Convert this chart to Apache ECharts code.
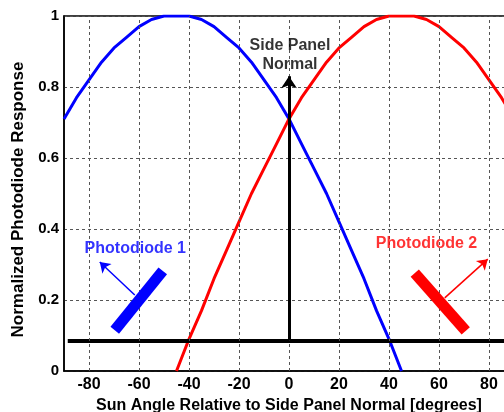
<!DOCTYPE html>
<html><head><meta charset="utf-8">
<script src="https://cdn.jsdelivr.net/npm/echarts@6/dist/echarts.min.js"></script>
<style>html,body{margin:0;padding:0;background:#fff}#c{width:504px;height:412px}</style>
</head><body><div id="c"></div>
<script>
// Data
var angles = [-90,-85,-80,-75,-70,-65,-60,-55,-50,-45,-40,-35,-30,-25,-20,-15,-10,-5,0,5,10,15,20,25,30,35,40,45,50,55,60,65,70,75,80,85,90];
var pd1 = [0.71,0.77,0.82,0.87,0.91,0.94,0.97,0.99,1.0,1.0,1.0,0.99,0.97,0.94,0.91,0.87,0.82,0.77,0.71,0.64,0.57,0.50,0.42,0.34,0.26,0.17,0.09,0.0,null,null,null,null,null,null,null,null,null];
var pd2 = [null,null,null,null,null,null,null,null,null,0.0,0.09,0.17,0.26,0.34,0.42,0.50,0.57,0.64,0.71,0.77,0.82,0.87,0.91,0.94,0.97,0.99,1.0,1.0,1.0,0.99,0.97,0.94,0.91,0.87,0.82,0.77,0.71];
var xTicks = [-80,-60,-40,-20,0,20,40,60,80];
var yTicks = [0,0.2,0.4,0.6,0.8,1];
var horizonLevel = 0.085;
var horizonStart = -88.5;
var normalTop = 0.83;
var diode1Bar = [[-69.7,0.115],[-50.5,0.282]];
var diode1Arrow = [[-61.7,0.214],[-75.7,0.307]];
var diode2Bar = [[50.3,0.276],[70.7,0.113]];
var diode2Arrow = [[62.3,0.206],[79.5,0.315]];
var labels = [
  {name:'Photodiode 1', x:-61.5, y:0.345, color:'#0000ff'},
  {name:'Photodiode 2', x:55, y:0.36, color:'#ff0000'},
  {name:'Side Panel', x:0.4, y:0.918, color:'#000000'},
  {name:'Normal', x:0.4, y:0.862, color:'#000000'}
];

var FONT = '"Liberation Sans", Arial, sans-serif';
var chart = echarts.init(document.getElementById('c'), null, {renderer:'canvas'});
function pairs(ys){ return angles.map(function(a,i){ return [a, ys[i]]; }); }

chart.setOption({
  animation:false,
  backgroundColor:'#fff',
  grid:{left:64, top:16, width:450, height:355, outerBoundsMode:'none', containLabel:false,
    show:true, borderColor:'#000', borderWidth:1.5, backgroundColor:'#fff'},
  xAxis:{type:'value', min:-90, max:90,
    name:'Sun Angle Relative to Side Panel Normal [degrees]', nameLocation:'middle', nameGap:25,
    nameTextStyle:{fontFamily:FONT, fontWeight:'bold', fontSize:16, color:'#000'},
    axisLine:{show:true, onZero:false, lineStyle:{color:'#000', width:1.5}},
    axisTick:{show:false, customValues:xTicks},
    axisLabel:{customValues:xTicks, fontFamily:FONT, fontWeight:'bold', fontSize:16, color:'#000', margin:6},
    splitLine:{show:false}
  },
  yAxis:{type:'value', min:0, max:1, interval:0.2,
    name:'Normalized Photodiode Response', nameLocation:'middle', nameGap:35,
    nameTextStyle:{fontFamily:FONT, fontWeight:'bold', fontSize:17, color:'#000', padding:[0,12,0,0]},
    axisLine:{show:true, onZero:false, lineStyle:{color:'#000', width:1.5}},
    axisTick:{show:false},
    axisLabel:{fontFamily:FONT, fontWeight:'bold', fontSize:15, color:'#000', margin:5},
    splitLine:{show:true, lineStyle:{color:'#555', type:[3,3], width:1}}
  },
  series:[
    {type:'line', data:[], silent:true,
      markLine:{silent:true, symbol:'none', label:{show:false},
        lineStyle:{color:'#555', type:[3,3], width:1},
        data: xTicks.map(function(t){ return {xAxis:t}; })}},
    {type:'line', data:pairs(pd1), showSymbol:false, connectNulls:false, clip:true,
      lineStyle:{color:'#0000ff', width:3}, z:3},
    {type:'line', data:pairs(pd2), showSymbol:false, connectNulls:false, clip:true,
      lineStyle:{color:'#ff0000', width:3}, z:3},
    {type:'lines', coordinateSystem:'cartesian2d', z:4,
      data:[{coords:[[horizonStart,horizonLevel],[90,horizonLevel]]}],
      symbol:'none', lineStyle:{color:'#000', width:4, opacity:1}},
    {type:'lines', coordinateSystem:'cartesian2d', z:5,
      data:[{coords:[[0,horizonLevel],[0,normalTop]]}],
      symbol:['none','arrow'], symbolSize:[0,12], lineStyle:{color:'#000', width:3, opacity:1}},
    {type:'lines', coordinateSystem:'cartesian2d', z:5,
      data:[{coords:diode1Bar}], symbol:'none',
      lineStyle:{color:'#0000ff', width:11, opacity:1, cap:'butt'}},
    {type:'lines', coordinateSystem:'cartesian2d', z:5,
      data:[{coords:diode1Arrow}], symbol:['none','arrow'], symbolSize:[0,10],
      lineStyle:{color:'#0000ff', width:1.5, opacity:1}},
    {type:'lines', coordinateSystem:'cartesian2d', z:5,
      data:[{coords:diode2Bar}], symbol:'none',
      lineStyle:{color:'#ff0000', width:11, opacity:1, cap:'butt'}},
    {type:'lines', coordinateSystem:'cartesian2d', z:5,
      data:[{coords:diode2Arrow}], symbol:['none','arrow'], symbolSize:[0,10],
      lineStyle:{color:'#ff0000', width:1.5, opacity:1}},
    {type:'scatter', z:6, symbolSize:1, itemStyle:{color:'rgba(0,0,0,0)'},
      data: labels.map(function(l){ return {value:[l.x,l.y], name:l.name,
        label:{show:true, position:'inside', formatter:l.name, color:l.color,
          fontFamily:FONT, fontWeight:'bold', fontSize:16}}; })}
  ]
});
</script></body></html>
